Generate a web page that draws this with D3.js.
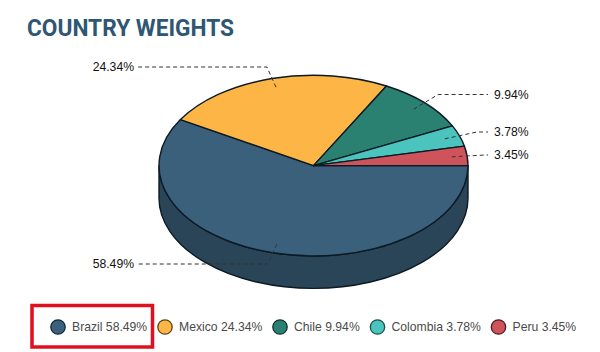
<!DOCTYPE html>
<html><head><meta charset="utf-8">
<script src="https://cdn.jsdelivr.net/npm/d3@7/dist/d3.min.js"></script>
<style>html,body{margin:0;padding:0;background:#fff}svg{display:block}</style>
</head><body><svg id="c" width="600" height="352"></svg>
<script>
const categories = ["Brazil","Mexico","Chile","Colombia","Peru"];
const values = [58.49,24.34,9.94,3.78,3.45];
const colors = ["#3a607c","#fdb546","#2a8172","#4ac4bc","#ce535a"];
const strokes = ["#16283a","#5c4216","#10342e","#1c504c","#4e1c20"];
const labelY = [264,67,94.5,132,155];
const legendCircleX = [58,165,280,377.5,498.5];
const title = "COUNTRY WEIGHTS";

const cx=313.5, cy=165.6, rx=154.5, ry=90.4, depth=32.4;
const svg=d3.select("#c");

svg.append("text").attr("x",27).attr("y",36).text(title)
  .attr("font-family","Roboto, sans-serif").attr("font-weight",700).attr("font-size",24)
  .attr("textLength",207).attr("lengthAdjust","spacingAndGlyphs").attr("fill","#2f5673");

const pie=d3.pie().sort(null).startAngle(Math.PI/2).endAngle(Math.PI*2.5)(values);
const sx=d3.scaleLinear().domain([-1,1]).range([cx-rx,cx+rx]);
const sy=d3.scaleLinear().domain([-1,1]).range([cy-ry,cy+ry]);

// side wall of the visible lower half (Brazil)
svg.append("path")
  .attr("d",`M${sx(1)} ${cy}A${rx} ${ry} 0 0 1 ${sx(-1)} ${cy}L${sx(-1)} ${cy+depth}A${rx} ${ry} 0 0 0 ${sx(1)} ${cy+depth}Z`)
  .attr("fill","#2b4558").attr("stroke","#0c1a24").attr("stroke-width",1.4);

const arc=d3.arc().innerRadius(0).outerRadius(1);
const g=svg.append("g").attr("transform",`translate(${cx},${cy}) scale(${rx},${ry})`);
g.selectAll("path").data(pie).join("path").attr("d",arc)
  .attr("fill",(d,i)=>colors[i]).attr("stroke","#0c1a24")
  .attr("stroke-width",1.4).attr("vector-effect","non-scaling-stroke").attr("stroke-linejoin","round");

// leader lines
const line=d3.line();
pie.forEach((d,i)=>{
  const a=(d.startAngle+d.endAngle)/2, ux=Math.sin(a), uy=-Math.cos(a);
  const right=ux>0;
  const inner=[sx(ux*0.9),sy(uy*0.9)], outer=[sx(ux*1.12),labelY[i]];
  const end=[right?488:138,labelY[i]];
  svg.append("path").attr("d",line([inner,outer,end])).attr("fill","none")
    .attr("stroke","#333").attr("stroke-width",1).attr("stroke-dasharray","4 3");
  svg.append("text").attr("x",right?494:134).attr("y",labelY[i]+4.3)
    .attr("text-anchor",right?"start":"end").text(values[i].toFixed(2)+"%")
    .attr("font-family","'Liberation Sans', Arial, sans-serif").attr("font-size",12.2).attr("fill","#111");
});

// legend
const ly=327;
categories.forEach((c,i)=>{
  svg.append("circle").attr("cx",legendCircleX[i]).attr("cy",ly).attr("r",7.2)
    .attr("fill",colors[i]).attr("stroke",strokes[i]).attr("stroke-width",1.3);
  svg.append("text").attr("x",legendCircleX[i]+14).attr("y",ly+4.3)
    .text(`${c} ${values[i].toFixed(2)}%`)
    .attr("font-family","'Liberation Sans', Arial, sans-serif").attr("font-size",12.2).attr("fill","#4a4a4a");
});

// highlight box around first legend item
svg.append("rect").attr("x",32).attr("y",305.5).attr("width",120.5).attr("height",41.5)
  .attr("fill","none").attr("stroke","#e0101f").attr("stroke-width",3.5);
</script></body></html>
